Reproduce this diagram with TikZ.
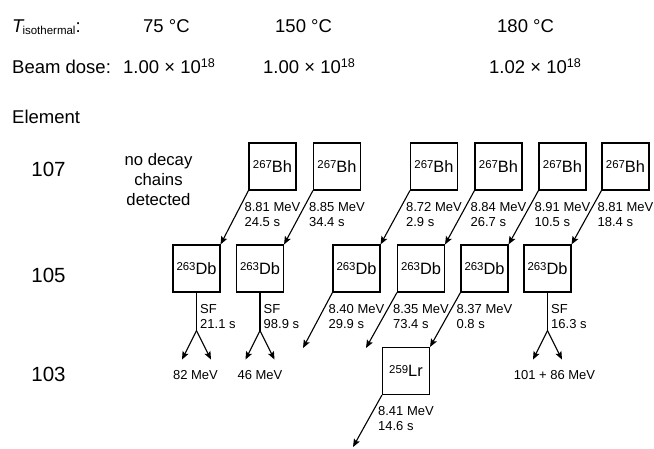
\documentclass[tikz,border=0pt]{standalone}
\usepackage{fontspec}
\setmainfont{Liberation Sans}
\usetikzlibrary{arrows.meta}

% isotope label: small raised mass number, then symbol
\newcommand{\isot}[2]{\raisebox{3.5pt}{\fontsize{11.4}{12}\selectfont #1}#2}
\newcommand{\dose}[1]{#1 × 10\raisebox{5.5pt}{\fontsize{12.6}{13}\selectfont 18}}

\begin{document}
\begin{tikzpicture}[
    x=1pt, y=-1pt,
    hdr/.style={inner sep=0, anchor=base west, font=\fontsize{18.5}{22}\selectfont},
    elem/.style={inner sep=0, anchor=base, font=\fontsize{20.5}{24}\selectfont},
    nucbox/.style={draw, line width=1.1pt, minimum size=47pt, inner sep=0, font=\fontsize{16.4}{18}\selectfont},
    lbl/.style={inner sep=0, anchor=north west, align=left, font=\fontsize{13}{15}\selectfont},
    elbl/.style={inner sep=0, anchor=base, font=\fontsize{13}{15}\selectfont},
    arr/.style={line width=1.1pt, -{Stealth[length=8pt, width=6.5pt, inset=1.5pt]}},
    sfline/.style={line width=1.1pt}
]
    \useasboundingbox (0,0) rectangle (654,448);

    % 1. Header rows
    \node[hdr] (thead) at (12,32) {{\itshape T}\kern-1pt\raisebox{-2pt}{\fontsize{11.5}{12}\selectfont isothermal}:};
    \node[hdr] (t1) at (143,32) {75 °C};
    \node[hdr] (t2) at (275,32) {150 °C};
    \node[hdr] (t3) at (497,32) {180 °C};

    \node[hdr] (dhead) at (12,73) {Beam dose:};
    \node[hdr] (d1) at (123,73) {\dose{1.00}};
    \node[hdr] (d2) at (263,73) {\dose{1.00}};
    \node[hdr] (d3) at (489,73) {\dose{1.02}};

    \node[hdr] (ehead) at (12,123) {Element};

    % 2. Element numbers
    \node[elem] (z107) at (48.5,176) {107};
    \node[elem] (z105) at (48.5,282) {105};
    \node[elem] (z103) at (48.5,381) {103};

    \node[inner sep=0, anchor=north, align=center, font=\fontsize{16.7}{20}\selectfont] (none) at (158.5,153) {no decay\\chains\\detected};

    % 3. Bh row
    \node[nucbox] (bh1) at (272.5,166.5) {\isot{267}{Bh}};
    \node[nucbox] (bh2) at (337,166.5) {\isot{267}{Bh}};
    \node[nucbox] (bh3) at (434,166.5) {\isot{267}{Bh}};
    \node[nucbox] (bh4) at (498.5,166.5) {\isot{267}{Bh}};
    \node[nucbox] (bh5) at (562.5,166.5) {\isot{267}{Bh}};
    \node[nucbox] (bh6) at (625.5,166.5) {\isot{267}{Bh}};

    % 4. Db row
    \node[nucbox] (db1) at (196.5,268.5) {\isot{263}{Db}};
    \node[nucbox] (db2) at (260,268.5) {\isot{263}{Db}};
    \node[nucbox] (db3) at (356.5,268.5) {\isot{263}{Db}};
    \node[nucbox] (db4) at (421,268.5) {\isot{263}{Db}};
    \node[nucbox] (db5) at (484.5,268.5) {\isot{263}{Db}};
    \node[nucbox] (db6) at (547.5,268.5) {\isot{263}{Db}};

    % 5. Lr
    \node[nucbox] (lr) at (406,371) {\isot{259}{Lr}};

    % Alpha decays
    \draw[arr] (bh1.south west) -- (db1.north east);
    \draw[arr] (bh2.south west) -- (db2.north east);
    \draw[arr] (bh3.south west) -- (db3.north east);
    \draw[arr] (bh4.south west) -- (db4.north east);
    \draw[arr] (bh5.south west) -- (db5.north east);
    \draw[arr] (bh6.south west) -- (db6.north east);
    \draw[arr] (db5.south west) -- (lr.north east);

    % open ends
    \coordinate (end3) at (303,348);
    \coordinate (end4) at (366,348);
    \coordinate (endlr) at (353,447);
    \draw[arr] (db3.south west) -- (end3);
    \draw[arr] (db4.south west) -- (end4);
    \draw[arr] (lr.south west) -- (endlr);

    \node[lbl] (a1) at ([xshift=-4pt, yshift=-11.5pt]bh1.south west) {8.81 MeV\\24.5 s};
    \node[lbl] (a2) at ([xshift=-4pt, yshift=-11.5pt]bh2.south west) {8.85 MeV\\34.4 s};
    \node[lbl] (a3) at ([xshift=-4pt, yshift=-11.5pt]bh3.south west) {8.72 MeV\\2.9 s};
    \node[lbl] (a4) at ([xshift=-4pt, yshift=-11.5pt]bh4.south west) {8.84 MeV\\26.7 s};
    \node[lbl] (a5) at ([xshift=-4pt, yshift=-11.5pt]bh5.south west) {8.91 MeV\\10.5 s};
    \node[lbl] (a6) at ([xshift=-4pt, yshift=-11.5pt]bh6.south west) {8.81 MeV\\18.4 s};
    \node[lbl] (a7) at ([xshift=-4pt, yshift=-11.5pt]db3.south west) {8.40 MeV\\29.9 s};
    \node[lbl] (a8) at ([xshift=-4pt, yshift=-11.5pt]db4.south west) {8.35 MeV\\73.4 s};
    \node[lbl] (a9) at ([xshift=-4pt, yshift=-11.5pt]db5.south west) {8.37 MeV\\0.8 s};
    \node[lbl] (a10) at ([xshift=-4pt, yshift=-11.5pt]lr.south west) {8.41 MeV\\14.6 s};

    % Fission branches
    \coordinate (sf1) at ([yshift=-38pt]db1.south);
    \coordinate (sf1l) at ([xshift=-14.5pt, yshift=-67pt]db1.south);
    \coordinate (sf1r) at ([xshift=14.5pt, yshift=-67pt]db1.south);
    \draw[sfline] (db1.south) -- (sf1);
    \draw[arr] (sf1) -- (sf1l);
    \draw[arr] (sf1) -- (sf1r);

    \coordinate (sf2) at ([yshift=-38pt]db2.south);
    \coordinate (sf2l) at ([xshift=-14.5pt, yshift=-67pt]db2.south);
    \coordinate (sf2r) at ([xshift=14.5pt, yshift=-67pt]db2.south);
    \draw[sfline] (db2.south) -- (sf2);
    \draw[arr] (sf2) -- (sf2l);
    \draw[arr] (sf2) -- (sf2r);

    \coordinate (sf6) at ([yshift=-38pt]db6.south);
    \coordinate (sf6l) at ([xshift=-14.5pt, yshift=-67pt]db6.south);
    \coordinate (sf6r) at ([xshift=14.5pt, yshift=-67pt]db6.south);
    \draw[sfline] (db6.south) -- (sf6);
    \draw[arr] (sf6) -- (sf6l);
    \draw[arr] (sf6) -- (sf6r);

    \node[lbl] (s1) at ([xshift=3.5pt, yshift=-12pt]db1.south) {SF\\21.1 s};
    \node[lbl] (s2) at ([xshift=3.5pt, yshift=-12pt]db2.south) {SF\\98.9 s};
    \node[lbl] (s6) at ([xshift=3.5pt, yshift=-12pt]db6.south) {SF\\16.3 s};

    \node[elbl] (e1) at ([xshift=-1pt, yshift=-87pt]db1.south) {82 MeV};
    \node[elbl] (e2) at ([yshift=-87pt]db2.south) {46 MeV};
    \node[elbl] (e6) at ([xshift=7pt, yshift=-87pt]db6.south) {101 + 86 MeV};

\end{tikzpicture}
\end{document}
